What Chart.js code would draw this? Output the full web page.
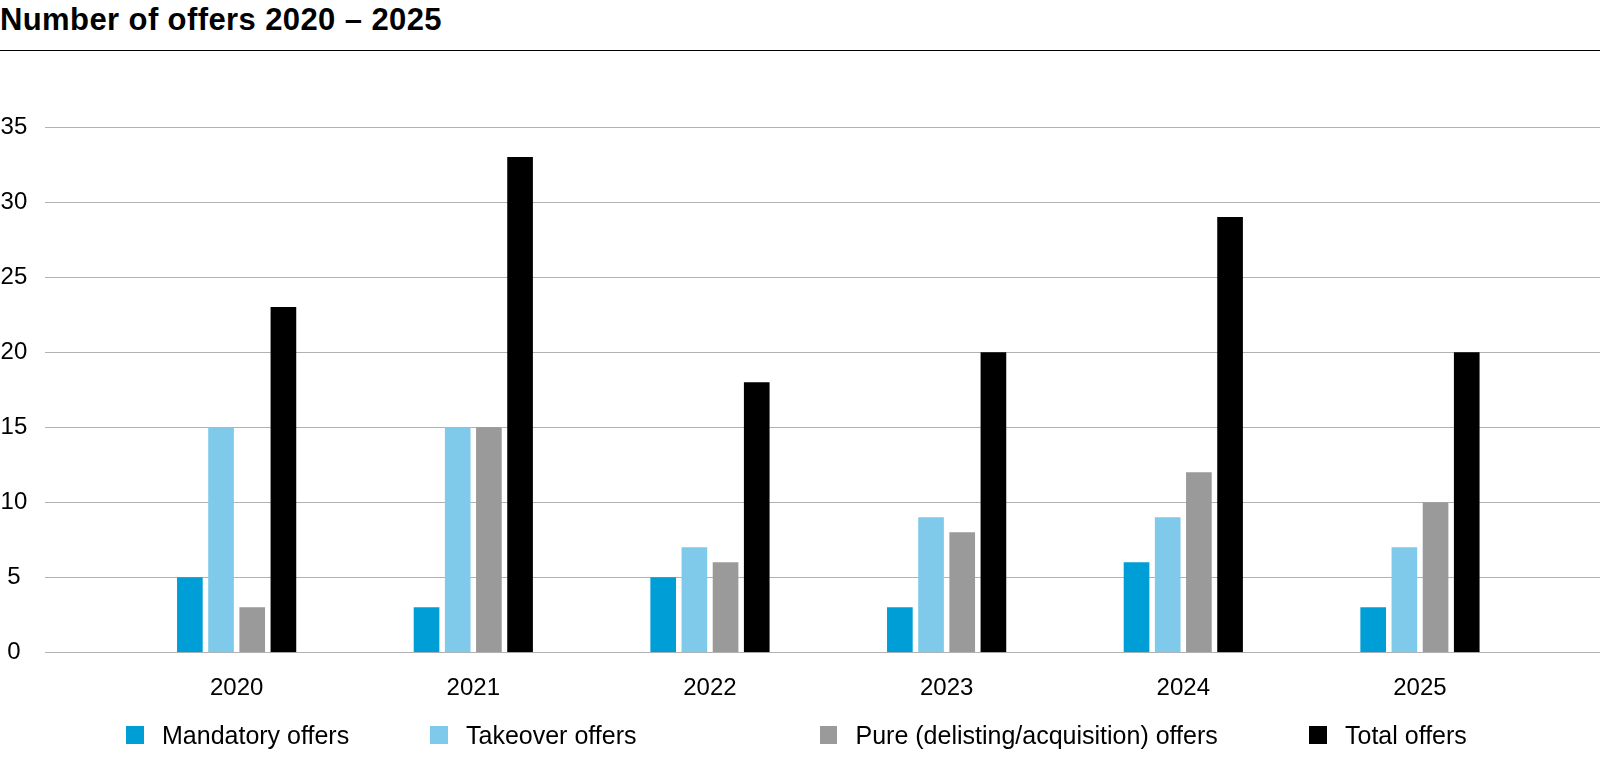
<!DOCTYPE html>
<html>
<head>
<meta charset="utf-8">
<script src="https://cdn.jsdelivr.net/npm/chart.js@4/dist/chart.umd.min.js"></script>
<style>
  html, body { margin: 0; padding: 0; background: #fff; }
  body { width: 1600px; height: 765px; position: relative; overflow: hidden; font-family: "Liberation Sans", Arial, sans-serif; }
  #title { position: absolute; left: 0; top: 3.5px; font-size: 31px; line-height: 31px; font-weight: bold; letter-spacing: 0.4px; color: #000; white-space: nowrap; }
  #rule { position: absolute; left: 0; top: 49.5px; width: 1600px; height: 1.5px; background: #000; }
  #wrap { position: absolute; left: 0; top: 0; width: 1600px; height: 765px; }
  .lg { position: absolute; top: 726px; height: 18px; font-size: 25px; line-height: 18px; color: #000; white-space: nowrap; }
  .lg .sw { position: absolute; left: 0; top: 0; width: 17.5px; height: 17.5px; }
  .lg .tx { position: absolute; left: 36px; top: 0px; }
</style>
</head>
<body>
<div id="title">Number of offers 2020 – 2025</div>
<div id="rule"></div>
<div id="wrap"><canvas id="c" width="1600" height="765"></canvas></div>
<div id="legend"></div>
<script>
const categories = ['2020', '2021', '2022', '2023', '2024', '2025'];
const mandatoryOffers = [5, 3, 5, 3, 6, 3];
const takeoverOffers = [15, 15, 7, 9, 9, 7];
const pureOffers = [3, 15, 6, 8, 12, 10];
const totalOffers = [23, 33, 18, 20, 29, 20];
const seriesLabels = ['Mandatory offers', 'Takeover offers', 'Pure (delisting/acquisition) offers', 'Total offers'];
const seriesColors = ['#009ed6', '#7fcaea', '#9a9a9a', '#000000'];
const yTicks = [0, 5, 10, 15, 20, 25, 30, 35];

const seriesData = [mandatoryOffers, takeoverOffers, pureOffers, totalOffers];

const gridPlugin = {
  id: 'fullGrid',
  beforeDatasetsDraw(chart) {
    const ctx = chart.ctx;
    const y = chart.scales.y;
    ctx.save();
    ctx.strokeStyle = '#b2b2b2';
    ctx.lineWidth = 1.2;
    yTicks.forEach(v => {
      const py = Math.round(y.getPixelForValue(v)) + 0.5;
      ctx.beginPath();
      ctx.moveTo(45, py);
      ctx.lineTo(1600, py);
      ctx.stroke();
    });
    ctx.restore();
  }
};

const chart = new Chart(document.getElementById('c'), {
  type: 'bar',
  data: {
    labels: categories,
    datasets: seriesData.map((d, i) => ({
      label: seriesLabels[i],
      data: d,
      backgroundColor: seriesColors[i],
      borderWidth: 0,
      categoryPercentage: 0.527,
      barPercentage: 0.823
    }))
  },
  options: {
    responsive: false,
    animation: false,
    devicePixelRatio: 1,
    layout: { padding: { top: 127, right: 61.7, left: 0, bottom: 0 } },
    plugins: { legend: { display: false }, tooltip: { enabled: false }, title: { display: false } },
    scales: {
      x: {
        offset: true,
        grid: { display: false },
        border: { display: false },
        ticks: { color: '#000', font: { family: 'Liberation Sans', size: 24 }, padding: 14, maxRotation: 0 },
        afterFit(scale) { scale.height = 765 - 652.3; }
      },
      y: {
        min: 0, max: 35,
        afterBuildTicks(scale) { scale.ticks = yTicks.map(v => ({ value: v })); },
        grid: { display: false, drawTicks: false },
        border: { display: false },
        ticks: { color: '#000', font: { family: 'Liberation Sans', size: 24 }, crossAlign: 'center', padding: 91 },
        afterFit(scale) { scale.width = 118.3; }
      }
    }
  },
  plugins: [gridPlugin]
});

const legendX = [126, 430, 819.5, 1309];
const lg = document.getElementById('legend');
seriesLabels.forEach((t, i) => {
  const d = document.createElement('div');
  d.className = 'lg';
  d.style.left = legendX[i] + 'px';
  const sw = document.createElement('div');
  sw.className = 'sw';
  sw.style.background = seriesColors[i];
  const tx = document.createElement('div');
  tx.className = 'tx';
  tx.textContent = t;
  d.appendChild(sw); d.appendChild(tx);
  lg.appendChild(d);
});
</script>
</body>
</html>
